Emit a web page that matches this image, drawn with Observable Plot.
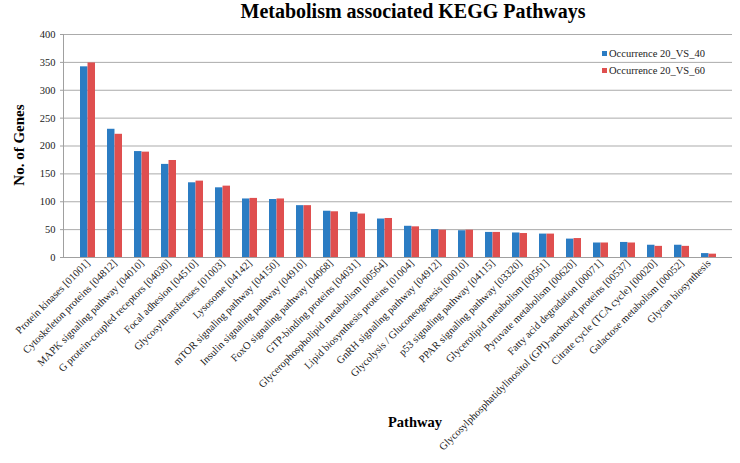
<!DOCTYPE html>
<html>
<head>
<meta charset="utf-8">
<script src="https://cdn.jsdelivr.net/npm/d3@7"></script>
<script src="https://cdn.jsdelivr.net/npm/@observablehq/plot@0.6"></script>
<style>
  html, body { margin: 0; padding: 0; background: #fff; }
  #wrap { position: relative; width: 740px; height: 463px; overflow: hidden; font-family: "Liberation Serif", "Times New Roman", serif; color: #000; }
  #chart { position: absolute; left: 0; top: 0; }
  .title { position: absolute; left: 0; width: 826px; top: -1px; text-align: center; font-weight: bold; font-size: 20px; line-height: 24px; }
  .ylab { position: absolute; left: -81px; width: 200px; top: 136px; line-height: 18px; text-align: center; font-weight: bold; font-size: 15px; transform: rotate(-90deg); }
  .xlab { position: absolute; left: 315px; width: 200px; top: 413px; line-height: 18px; text-align: center; font-weight: bold; font-size: 14.5px; }
  .legend { position: absolute; left: 602px; top: 45px; font-size: 10.5px; color: #222; }
  .legend div { display: flex; align-items: center; height: 17px; }
  .legend span.sw { display: inline-block; width: 5px; height: 5px; margin-right: 2px; }
</style>
</head>
<body>
<div id="wrap">
  <div id="chart"></div>
  <div class="title">Metabolism associated KEGG Pathways</div>
  <div class="ylab">No. of Genes</div>
  <div class="xlab">Pathway</div>
  <div class="legend" id="legend"></div>
</div>
<script>
const categories = [
  "Protein kinases [01001]",
  "Cytoskeleton proteins [04812]",
  "MAPK signaling pathway [04010]",
  "G protein-coupled receptors [04030]",
  "Focal adhesion [04510]",
  "Glycosyltransferases [01003]",
  "Lysosome [04142]",
  "mTOR signaling pathway [04150]",
  "Insulin signaling pathway [04910]",
  "FoxO signaling pathway [04068]",
  "GTP-binding proteins [04031]",
  "Glycerophospholipid metabolism [00564]",
  "Lipid biosynthesis proteins [01004]",
  "GnRH signaling pathway [04912]",
  "Glycolysis / Gluconeogenesis [00010]",
  "p53 signaling pathway [04115]",
  "PPAR signaling pathway [03320]",
  "Glycerolipid metabolism [00561]",
  "Pyruvate metabolism [00620]",
  "Fatty acid degradation [00071]",
  "Glycosylphosphatidylinositol (GPI)-anchored proteins [00537]",
  "Citrate cycle (TCA cycle) [00020]",
  "Galactose metabolism [00052]",
  "Glycan biosynthesis"
];
const seriesNames = ["Occurrence 20_VS_40", "Occurrence 20_VS_60"];
const v40 = [342, 230, 190, 167, 134, 125, 105, 104, 93, 83, 81, 69, 56, 50, 48, 45, 44, 42, 33, 26, 27, 22, 22, 7];
const v60 = [349, 221, 189, 174, 137, 128, 106, 105, 93, 82, 78, 70, 55, 49, 49, 45, 43, 42, 34, 26, 26, 20, 20, 6];
const yTicks = [0, 50, 100, 150, 200, 250, 300, 350, 400];
const gridValues = [50, 100, 150, 200, 250, 300, 350, 400];

const colors = ["#2b7cc3", "#df4f4f"];

const rows = categories.map((c, i) => ({pathway: c, v40: v40[i], v60: v60[i]}));

const W = 740, H = 463;
const mL = 63, mR = 8, mT = 34, mB = 206;
const pInner = 0.46, pOuter = 0.23;
const step = (W - mL - mR) / (categories.length - pInner + 2 * pOuter);
const half = step * (1 - pInner) / 2;

const plot = Plot.plot({
  width: W,
  height: H,
  marginLeft: mL,
  marginRight: mR,
  marginTop: mT,
  marginBottom: mB,
  style: {fontFamily: "'Liberation Serif', 'Times New Roman', serif", fontSize: "10.5px", background: "#fff", color: "#222"},
  x: {domain: categories, paddingInner: pInner, paddingOuter: pOuter, label: null},
  y: {domain: [0, 400], label: null},
  marks: [
    Plot.ruleY(gridValues, {stroke: "#ababab", strokeWidth: 1}),
    Plot.barY(rows, {x: "pathway", y: "v40", fill: colors[0], insetRight: half}),
    Plot.barY(rows, {x: "pathway", y: "v60", fill: colors[1], insetLeft: half}),
    Plot.ruleY([0], {stroke: "#a0a0a0", strokeWidth: 1}),
    Plot.frame({anchor: "left", stroke: "#a0a0a0"}),
    Plot.axisY({ticks: yTicks, tickSize: 3, tickPadding: 5, stroke: "#a0a0a0", label: null, fontSize: 10.5}),
    Plot.axisX({tickRotate: -45, tickSize: 0, tickPadding: 4, label: null, fontSize: 10.5})
  ]
});
document.getElementById("chart").appendChild(plot);

const leg = document.getElementById("legend");
seriesNames.forEach((s, i) => {
  const row = document.createElement("div");
  const sw = document.createElement("span");
  sw.className = "sw";
  sw.style.background = colors[i];
  row.appendChild(sw);
  row.appendChild(document.createTextNode(s));
  leg.appendChild(row);
});
</script>
</body>
</html>
